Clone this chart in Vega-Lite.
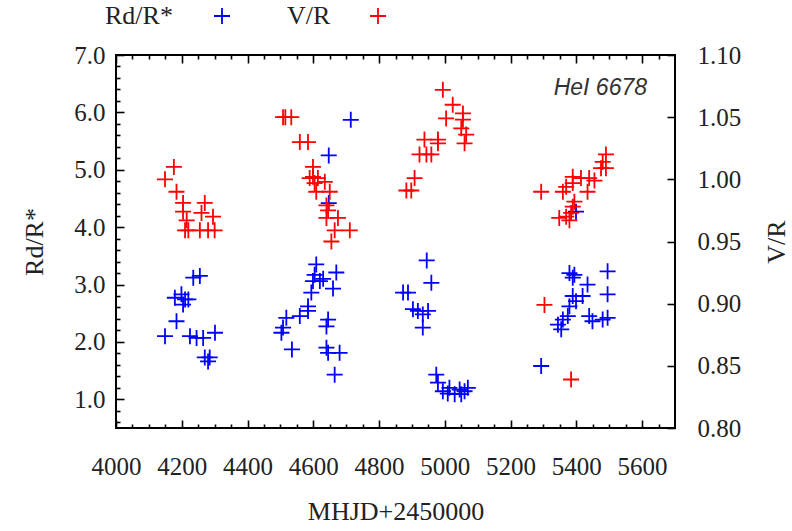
{
  "$schema": "https://vega.github.io/schema/vega-lite/v6.json",
  "width": 559,
  "height": 373,
  "autosize": {"type": "none"},
  "padding": {"left": 116, "top": 55, "right": 117, "bottom": 103},
  "background": "white",
  "config": {
    "view": {"stroke": "#000", "strokeWidth": 2},
    "axis": {
      "domain": false,
      "grid": false,
      "ticks": true,
      "tickColor": "#000",
      "tickWidth": 1.6,
      "labelFont": "Liberation Serif",
      "labelFontSize": 25,
      "labelColor": "#222",
      "titleFont": "Liberation Serif",
      "titleFontSize": 26,
      "titleFontWeight": "normal",
      "titleColor": "#222",
      "labelOverlap": false,
      "labelFlush": false,
      "labelBound": false
    },
    "legend": {
      "orient": "none",
      "title": null,
      "symbolType": "M-1,0L1,0M0,-1L0,1",
      "symbolSize": 256,
      "symbolStrokeWidth": 1.8,
      "symbolFillColor": "transparent",
      "labelFont": "Liberation Serif",
      "labelFontSize": 26,
      "labelColor": "#222"
    }
  },
  "datasets": {
    "rd": [
      {"t": 4235, "v": 3.12, "s": "Rd/R*"}, {"t": 4255, "v": 3.15, "s": "Rd/R*"}, {"t": 4179, "v": 2.77, "s": "Rd/R*"}, {"t": 4199, "v": 2.83, "s": "Rd/R*"},
      {"t": 4210, "v": 2.74, "s": "Rd/R*"}, {"t": 4204, "v": 2.65, "s": "Rd/R*"}, {"t": 4220, "v": 2.74, "s": "Rd/R*"}, {"t": 4184, "v": 2.36, "s": "Rd/R*"},
      {"t": 4149, "v": 2.10, "s": "Rd/R*"}, {"t": 4225, "v": 2.10, "s": "Rd/R*"}, {"t": 4245, "v": 2.07, "s": "Rd/R*"}, {"t": 4265, "v": 2.07, "s": "Rd/R*"},
      {"t": 4301, "v": 2.16, "s": "Rd/R*"}, {"t": 4270, "v": 1.73, "s": "Rd/R*"}, {"t": 4285, "v": 1.73, "s": "Rd/R*"}, {"t": 4280, "v": 1.66, "s": "Rd/R*"},
      {"t": 4714, "v": 5.87, "s": "Rd/R*"}, {"t": 4647, "v": 5.25, "s": "Rd/R*"}, {"t": 4647, "v": 4.42, "s": "Rd/R*"}, {"t": 4609, "v": 3.35, "s": "Rd/R*"},
      {"t": 4604, "v": 3.17, "s": "Rd/R*"}, {"t": 4599, "v": 3.06, "s": "Rd/R*"}, {"t": 4620, "v": 3.06, "s": "Rd/R*"}, {"t": 4670, "v": 3.21, "s": "Rd/R*"},
      {"t": 4660, "v": 2.93, "s": "Rd/R*"}, {"t": 4594, "v": 2.86, "s": "Rd/R*"}, {"t": 4584, "v": 2.62, "s": "Rd/R*"}, {"t": 4584, "v": 2.54, "s": "Rd/R*"},
      {"t": 4559, "v": 2.45, "s": "Rd/R*"}, {"t": 4518, "v": 2.42, "s": "Rd/R*"}, {"t": 4508, "v": 2.25, "s": "Rd/R*"}, {"t": 4503, "v": 2.16, "s": "Rd/R*"},
      {"t": 4535, "v": 1.87, "s": "Rd/R*"}, {"t": 4645, "v": 2.39, "s": "Rd/R*"}, {"t": 4640, "v": 2.27, "s": "Rd/R*"}, {"t": 4640, "v": 1.90, "s": "Rd/R*"},
      {"t": 4645, "v": 1.81, "s": "Rd/R*"}, {"t": 4680, "v": 1.81, "s": "Rd/R*"}, {"t": 4665, "v": 1.43, "s": "Rd/R*"}, {"t": 4630, "v": 3.10, "s": "Rd/R*"},
      {"t": 4945, "v": 3.42, "s": "Rd/R*"}, {"t": 4959, "v": 3.03, "s": "Rd/R*"}, {"t": 4873, "v": 2.86, "s": "Rd/R*"}, {"t": 4888, "v": 2.86, "s": "Rd/R*"},
      {"t": 4903, "v": 2.57, "s": "Rd/R*"}, {"t": 4918, "v": 2.54, "s": "Rd/R*"}, {"t": 4949, "v": 2.54, "s": "Rd/R*"}, {"t": 4933, "v": 2.48, "s": "Rd/R*"},
      {"t": 4933, "v": 2.25, "s": "Rd/R*"}, {"t": 4974, "v": 1.43, "s": "Rd/R*"}, {"t": 4979, "v": 1.29, "s": "Rd/R*"}, {"t": 4994, "v": 1.14, "s": "Rd/R*"},
      {"t": 5014, "v": 1.20, "s": "Rd/R*"}, {"t": 5030, "v": 1.09, "s": "Rd/R*"}, {"t": 5045, "v": 1.17, "s": "Rd/R*"}, {"t": 5060, "v": 1.14, "s": "Rd/R*"},
      {"t": 5070, "v": 1.20, "s": "Rd/R*"}, {"t": 5050, "v": 1.09, "s": "Rd/R*"}, {"t": 5009, "v": 1.10, "s": "Rd/R*"},
      {"t": 5293, "v": 1.58, "s": "Rd/R*"}, {"t": 5379, "v": 3.20, "s": "Rd/R*"}, {"t": 5389, "v": 3.12, "s": "Rd/R*"}, {"t": 5434, "v": 3.00, "s": "Rd/R*"},
      {"t": 5495, "v": 3.23, "s": "Rd/R*"}, {"t": 5495, "v": 2.83, "s": "Rd/R*"}, {"t": 5389, "v": 2.80, "s": "Rd/R*"}, {"t": 5399, "v": 2.71, "s": "Rd/R*"},
      {"t": 5419, "v": 2.80, "s": "Rd/R*"}, {"t": 5379, "v": 2.62, "s": "Rd/R*"}, {"t": 5374, "v": 2.45, "s": "Rd/R*"}, {"t": 5359, "v": 2.39, "s": "Rd/R*"},
      {"t": 5344, "v": 2.30, "s": "Rd/R*"}, {"t": 5354, "v": 2.22, "s": "Rd/R*"}, {"t": 5439, "v": 2.45, "s": "Rd/R*"}, {"t": 5449, "v": 2.36, "s": "Rd/R*"},
      {"t": 5480, "v": 2.39, "s": "Rd/R*"}, {"t": 5495, "v": 2.42, "s": "Rd/R*"}, {"t": 5394, "v": 3.17, "s": "Rd/R*"}, {"t": 5399, "v": 4.27, "s": "Rd/R*"}
    ],
    "vr": [
      {"t": 4176, "v": 1.010, "s": "V/R"}, {"t": 4149, "v": 1.000, "s": "V/R"}, {"t": 4184, "v": 0.990, "s": "V/R"}, {"t": 4204, "v": 0.981, "s": "V/R"},
      {"t": 4270, "v": 0.981, "s": "V/R"}, {"t": 4204, "v": 0.974, "s": "V/R"}, {"t": 4215, "v": 0.967, "s": "V/R"}, {"t": 4220, "v": 0.959, "s": "V/R"},
      {"t": 4260, "v": 0.973, "s": "V/R"}, {"t": 4295, "v": 0.970, "s": "V/R"}, {"t": 4255, "v": 0.959, "s": "V/R"}, {"t": 4210, "v": 0.959, "s": "V/R"},
      {"t": 4280, "v": 0.959, "s": "V/R"}, {"t": 4300, "v": 0.959, "s": "V/R"},
      {"t": 4508, "v": 1.050, "s": "V/R"}, {"t": 4515, "v": 1.050, "s": "V/R"}, {"t": 4533, "v": 1.050, "s": "V/R"}, {"t": 4559, "v": 1.030, "s": "V/R"},
      {"t": 4584, "v": 1.030, "s": "V/R"}, {"t": 4599, "v": 1.010, "s": "V/R"}, {"t": 4599, "v": 1.002, "s": "V/R"}, {"t": 4589, "v": 1.001, "s": "V/R"},
      {"t": 4614, "v": 1.001, "s": "V/R"}, {"t": 4604, "v": 0.997, "s": "V/R"}, {"t": 4635, "v": 0.998, "s": "V/R"}, {"t": 4609, "v": 0.990, "s": "V/R"},
      {"t": 4650, "v": 0.990, "s": "V/R"}, {"t": 4640, "v": 0.979, "s": "V/R"}, {"t": 4645, "v": 0.975, "s": "V/R"}, {"t": 4640, "v": 0.969, "s": "V/R"},
      {"t": 4675, "v": 0.969, "s": "V/R"}, {"t": 4665, "v": 0.959, "s": "V/R"}, {"t": 4711, "v": 0.959, "s": "V/R"}, {"t": 4655, "v": 0.950, "s": "V/R"},
      {"t": 4994, "v": 1.072, "s": "V/R"}, {"t": 5024, "v": 1.060, "s": "V/R"}, {"t": 5004, "v": 1.049, "s": "V/R"}, {"t": 5055, "v": 1.053, "s": "V/R"},
      {"t": 5055, "v": 1.048, "s": "V/R"}, {"t": 5050, "v": 1.041, "s": "V/R"}, {"t": 5065, "v": 1.036, "s": "V/R"}, {"t": 5060, "v": 1.029, "s": "V/R"},
      {"t": 4938, "v": 1.032, "s": "V/R"}, {"t": 4979, "v": 1.032, "s": "V/R"}, {"t": 4979, "v": 1.029, "s": "V/R"}, {"t": 4923, "v": 1.020, "s": "V/R"},
      {"t": 4944, "v": 1.020, "s": "V/R"}, {"t": 4959, "v": 1.020, "s": "V/R"}, {"t": 4908, "v": 1.001, "s": "V/R"}, {"t": 4883, "v": 0.991, "s": "V/R"},
      {"t": 4898, "v": 0.991, "s": "V/R"},
      {"t": 5293, "v": 0.990, "s": "V/R"}, {"t": 5490, "v": 1.020, "s": "V/R"}, {"t": 5480, "v": 1.014, "s": "V/R"}, {"t": 5475, "v": 1.009, "s": "V/R"},
      {"t": 5490, "v": 1.009, "s": "V/R"}, {"t": 5389, "v": 1.002, "s": "V/R"}, {"t": 5414, "v": 1.001, "s": "V/R"}, {"t": 5439, "v": 1.001, "s": "V/R"},
      {"t": 5455, "v": 0.999, "s": "V/R"}, {"t": 5369, "v": 0.994, "s": "V/R"}, {"t": 5389, "v": 0.997, "s": "V/R"}, {"t": 5359, "v": 0.990, "s": "V/R"},
      {"t": 5434, "v": 0.990, "s": "V/R"}, {"t": 5394, "v": 0.982, "s": "V/R"}, {"t": 5389, "v": 0.978, "s": "V/R"}, {"t": 5348, "v": 0.969, "s": "V/R"},
      {"t": 5369, "v": 0.970, "s": "V/R"}, {"t": 5379, "v": 0.967, "s": "V/R"}, {"t": 5384, "v": 0.973, "s": "V/R"}, {"t": 5303, "v": 0.899, "s": "V/R"},
      {"t": 5384, "v": 0.839, "s": "V/R"}
    ],
    "lab": [{"t": 5615, "v": 6.43, "txt": "HeI 6678"}]
  },
  "layer": [
    {
      "data": {"name": "rd"},
      "mark": {"type": "point", "shape": "M-1,0L1,0M0,-1L0,1", "filled": false, "size": 256, "strokeWidth": 1.8, "opacity": 1},
      "encoding": {
        "x": {
          "field": "t", "type": "quantitative",
          "scale": {"domain": [4000, 5700], "nice": false, "zero": false},
          "axis": {
            "orient": "bottom",
            "values": [4000,4200,4400,4600,4800,5000,5200,5400,5600],
            "format": "d",
            "offset": -8,
            "tickSize": 8,
            "labelPadding": 26,
            "title": "MHJD+2450000",
            "titlePadding": 19
          }
        },
        "y": {
          "field": "v", "type": "quantitative",
          "scale": {"domain": [0.5, 7.0], "nice": false, "zero": false},
          "axis": {
            "orient": "left",
            "values": [1,2,3,4,5,6,7],
            "format": ".1f",
            "offset": -8,
            "tickSize": 8,
            "labelPadding": 11,
            "title": "Rd/R*",
            "titlePadding": 26
          }
        },
        "color": {
          "field": "s", "type": "nominal",
          "scale": {"domain": ["Rd/R*"], "range": ["#0000ff"]},
          "legend": {"legendX": 93, "legendY": -52, "labelOffset": -130}
        }
      }
    },
    {
      "data": {"name": "vr"},
      "mark": {"type": "point", "shape": "M-1,0L1,0M0,-1L0,1", "filled": false, "size": 256, "strokeWidth": 1.8, "opacity": 1},
      "encoding": {
        "x": {
          "field": "t", "type": "quantitative",
          "scale": {"domain": [4000, 5700], "nice": false, "zero": false},
          "axis": {
            "orient": "top",
            "values": [4000,4200,4400,4600,4800,5000,5200,5400,5600],
            "offset": -8,
            "tickSize": 8,
            "labels": false,
            "title": null
          }
        },
        "y": {
          "field": "v", "type": "quantitative",
          "scale": {"domain": [0.8, 1.1], "nice": false, "zero": false},
          "axis": {
            "orient": "right",
            "values": [0.8,0.85,0.9,0.95,1.0,1.05,1.1],
            "format": ".2f",
            "offset": -8,
            "tickSize": 8,
            "labelPadding": 22,
            "title": "V/R",
            "titleAngle": 270,
            "titlePadding": 49
          }
        },
        "color": {
          "field": "s", "type": "nominal",
          "scale": {"domain": ["V/R"], "range": ["#ff0000"]},
          "legend": {"legendX": 249, "legendY": -52, "labelOffset": -104}
        }
      }
    },
    {
      "data": {"name": "lab"},
      "mark": {"type": "text", "align": "right", "baseline": "middle", "font": "Liberation Sans", "fontStyle": "italic", "fontSize": 23, "color": "#333"},
      "encoding": {
        "x": {
          "field": "t", "type": "quantitative",
          "scale": {"domain": [4000, 5700], "nice": false, "zero": false},
          "axis": {
            "orient": "bottom",
            "values": [4050,4100,4150,4250,4300,4350,4450,4500,4550,4650,4700,4750,4850,4900,4950,5050,5100,5150,5250,5300,5350,5450,5500,5550,5650],
            "offset": -4,
            "tickSize": 4,
            "labels": false,
            "title": null
          }
        },
        "y": {
          "field": "v", "type": "quantitative",
          "scale": {"domain": [0.5, 7.0], "nice": false, "zero": false},
          "axis": {
            "orient": "left",
            "values": [0.6,0.8,1.2,1.4,1.6,1.8,2.2,2.4,2.6,2.8,3.2,3.4,3.6,3.8,4.2,4.4,4.6,4.8,5.2,5.4,5.6,5.8,6.2,6.4,6.6,6.8],
            "offset": -4,
            "tickSize": 4,
            "labels": false,
            "title": null
          }
        },
        "text": {"field": "txt"}
      }
    },
    {
      "data": {"name": "lab"},
      "mark": {"type": "point", "opacity": 0, "size": 1},
      "encoding": {
        "x": {
          "field": "t", "type": "quantitative",
          "scale": {"domain": [4000, 5700], "nice": false, "zero": false},
          "axis": {
            "orient": "top",
            "values": [4050,4100,4150,4250,4300,4350,4450,4500,4550,4650,4700,4750,4850,4900,4950,5050,5100,5150,5250,5300,5350,5450,5500,5550,5650],
            "offset": -4,
            "tickSize": 4,
            "labels": false,
            "title": null
          }
        },
        "y": {
          "field": "v", "type": "quantitative",
          "scale": {"domain": [0.5, 7.0], "nice": false, "zero": false},
          "axis": null
        }
      }
    }
  ],
  "resolve": {"scale": {"y": "independent", "color": "independent"}, "axis": {"x": "independent", "y": "independent"}}
}
